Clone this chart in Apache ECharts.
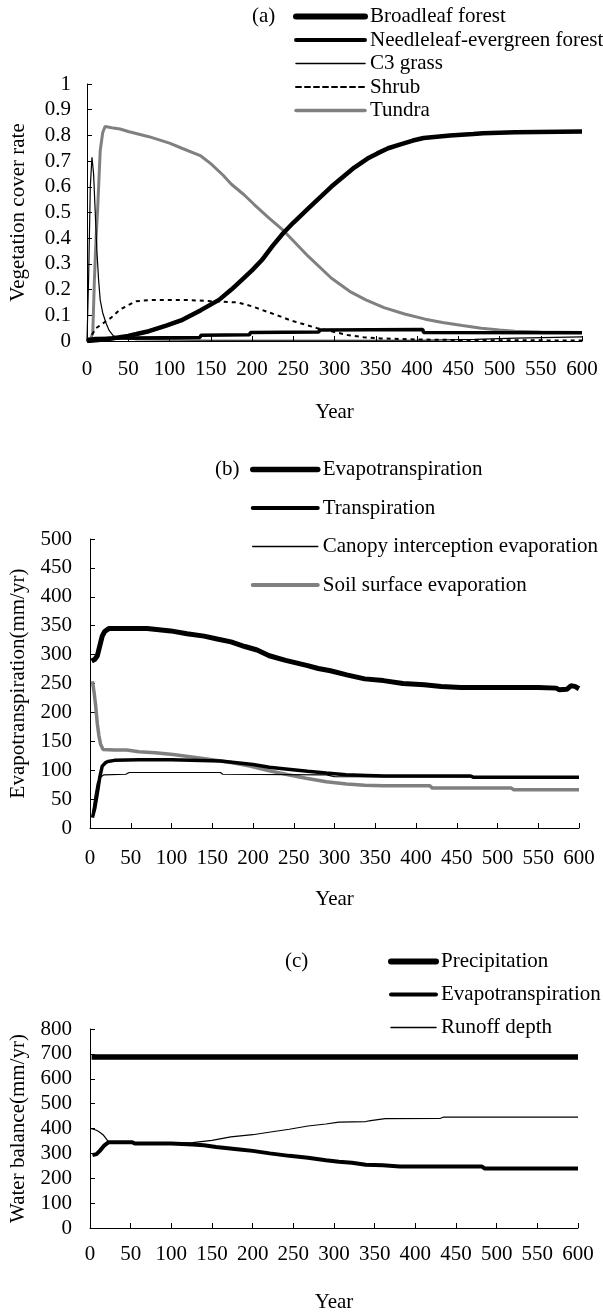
<!DOCTYPE html>
<html><head><meta charset="utf-8">
<script src="https://cdn.jsdelivr.net/npm/echarts@6/dist/echarts.min.js"></script>
<style>html,body{margin:0;padding:0;background:#fff}#chart{width:603px;height:1314px}</style>
</head><body><div id="chart"></div><script>
// ---------- Panel (a): vegetation cover rate ----------
const broadleaf = [[0,0],[10,0.003],[20,0.006],[30,0.01],[40,0.015],[50,0.02],[60,0.027],[75,0.038],[96,0.06],[114,0.08],[138,0.12],[160,0.16],[175,0.2],[190,0.245],[200,0.275],[212,0.315],[225,0.37],[238,0.42],[250,0.46],[268,0.515],[296,0.6],[324,0.675],[340,0.71],[352,0.73],[365,0.75],[380,0.765],[395,0.78],[408,0.79],[440,0.8],[468,0.805],[480,0.808],[519,0.812],[600,0.815]];
const needleleaf = [[0,0.005],[10,0.01],[50,0.012],[137,0.014],[138,0.022],[197,0.024],[198,0.033],[281,0.035],[282,0.043],[407,0.045],[408,0.033],[600,0.032]];
const c3grass = [[0,0],[2,0.25],[4,0.6],[6,0.715],[8,0.65],[10,0.5],[12,0.35],[14,0.24],[16,0.16],[19,0.11],[23,0.07],[27,0.04],[32,0.02],[40,0.01],[60,0.005],[150,0.003],[407,0.003],[408,0.005],[470,0.006],[471,0.01],[520,0.011],[521,0.016],[600,0.016]];
const shrub = [[0,0],[5,0.02],[11,0.05],[20,0.07],[29,0.09],[39,0.12],[50,0.14],[60,0.155],[80,0.16],[120,0.16],[150,0.155],[183,0.15],[200,0.135],[219,0.113],[235,0.095],[247,0.08],[263,0.065],[279,0.05],[300,0.035],[316,0.023],[335,0.015],[356,0.01],[380,0.008],[400,0.006],[450,0.004],[500,0.003],[600,0.002]];
const tundra = [[0,0],[4,0.005],[7,0.03],[9,0.24],[11,0.4],[13,0.52],[16,0.74],[19,0.81],[22,0.835],[30,0.83],[40,0.825],[50,0.815],[75,0.795],[100,0.77],[115,0.75],[138,0.72],[150,0.69],[165,0.645],[175,0.61],[190,0.57],[203,0.53],[220,0.48],[238,0.43],[250,0.39],[268,0.33],[296,0.245],[320,0.19],[338,0.16],[360,0.13],[385,0.105],[410,0.085],[431,0.072],[455,0.06],[478,0.05],[500,0.043],[519,0.038],[550,0.035],[600,0.033]];

// ---------- Panel (b): evapotranspiration components (mm/yr) ----------
const etB = [[2,289],[6,292],[9,298],[12,315],[15,332],[18,340],[23,345],[50,345],[70,345],[72,343],[99,341],[119,336],[140,332],[156,327],[173,322],[190,314],[205,308],[220,298],[240,290],[267,281],[280,276],[295,272],[315,265],[337,258],[360,255],[384,250],[410,248],[431,245],[455,243],[500,243],[550,243],[572,242],[576,239],[585,240],[590,246],[595,245],[600,241]];
const transpiration = [[3,18],[6,35],[9,60],[12,88],[15,107],[19,113],[22,115],[30,117],[60,118],[100,118],[160,116],[180,113],[200,110],[220,105],[240,102],[267,98],[290,95],[314,92],[340,91],[361,90],[467,90],[470,88],[600,88]];
const canopy = [[3,25],[6,55],[9,78],[13,88],[17,92],[44,93],[48,96],[160,96],[163,93],[290,92],[300,89],[600,88]];
const soil = [[3,254],[5,235],[7,211],[9,180],[11,159],[13,145],[16,136],[30,135],[45,135],[60,132],[80,130],[102,127],[125,123],[150,118],[175,113],[196,107],[220,99],[243,92],[265,86],[290,80],[315,76],[337,74],[361,73],[417,73],[420,69],[517,69],[520,66],[600,66]];

// ---------- Panel (c): water balance (mm/yr) ----------
const precipitation = [[2,687],[100,687],[200,687],[300,687],[400,687],[500,687],[600,687]];
const etC = [[3,293],[8,297],[12,310],[17,330],[23,345],[52,345],[55,340],[100,340],[126,336],[140,333],[155,326],[184,316],[200,310],[221,300],[245,290],[268,282],[290,272],[306,266],[322,262],[339,254],[360,252],[381,247],[430,247],[482,247],[485,239],[600,239]];
const runoff = [[1,400],[8,393],[12,385],[16,375],[20,358],[23,345],[52,343],[100,340],[126,343],[150,352],[173,366],[200,375],[220,385],[245,397],[268,410],[290,418],[306,426],[339,428],[345,432],[363,440],[431,441],[435,446],[600,446]];

const FONT = "'Liberation Serif','Times New Roman',serif";
const FS = 21;
const GRAY = '#808080';

function xAxis(gi, nameGap, margin) {
  return {
    type: 'value', gridIndex: gi, min: 0, max: 600, interval: 50,
    name: 'Year', nameLocation: 'middle', nameGap: nameGap,
    nameTextStyle: {fontFamily: FONT, fontSize: FS, color: '#000'},
    axisLine: {show: true, onZero: false, lineStyle: {color: '#000', width: 1}},
    axisTick: {show: true, inside: true, length: 5, lineStyle: {color: '#000', width: 1}},
    axisLabel: {margin: margin, color: '#000', fontFamily: FONT, fontSize: FS},
    splitLine: {show: false}
  };
}
function yAxis(gi, name, max, interval, nameGap, margin) {
  return {
    type: 'value', gridIndex: gi, min: 0, max: max, interval: interval,
    name: name, nameLocation: 'middle', nameGap: nameGap, nameRotate: 90,
    nameTextStyle: {fontFamily: FONT, fontSize: FS, color: '#000'},
    axisLine: {show: true, lineStyle: {color: '#000', width: 1}},
    axisTick: {show: true, inside: true, length: 5, lineStyle: {color: '#000', width: 1}},
    axisLabel: {margin: margin, color: '#000', fontFamily: FONT, fontSize: FS},
    splitLine: {show: false}
  };
}
function line(name, data, gi, width, color, type) {
  return {
    type: 'line', name: name, data: data, xAxisIndex: gi, yAxisIndex: gi,
    symbol: 'none', showSymbol: false, smooth: false, animation: false,
    lineStyle: {width: width, color: color, type: type || 'solid'},
    itemStyle: {color: color}
  };
}
function legendItem(name, width, color, type) {
  return {
    name: name,
    itemStyle: {opacity: 0, color: 'rgba(0,0,0,0)', borderWidth: 0},
    lineStyle: {width: width, color: color, type: type || 'solid', cap: 'round', opacity: 1}
  };
}
const legendText = {fontFamily: FONT, fontSize: FS, color: '#000'};
const titleText = {fontFamily: FONT, fontSize: FS, color: '#000', fontWeight: 'normal'};

const option = {
  backgroundColor: '#fff',
  animation: false,
  title: [
    {text: '(a)', left: 252, top: 6, padding: 0, textStyle: titleText},
    {text: '(b)', left: 215, top: 459, padding: 0, textStyle: titleText},
    {text: '(c)', left: 285, top: 951, padding: 0, textStyle: titleText}
  ],
  legend: [
    {orient: 'vertical', left: 293, top: 6, padding: 0, itemWidth: 69, itemHeight: 14, itemGap: 2.5,
     selectedMode: false, textStyle: legendText,
     data: [legendItem('Broadleaf forest', 6, '#000'), legendItem('Needleleaf-evergreen forest', 4, '#000'),
            legendItem('C3 grass', 1.5, '#000'), legendItem('Shrub', 2, '#000', [5, 4]), legendItem('Tundra', 3.5, GRAY)]},
    {orient: 'vertical', left: 250, top: 459, padding: 0, itemWidth: 65, itemHeight: 14, itemGap: 17.5,
     selectedMode: false, textStyle: legendText,
     data: [legendItem('Evapotranspiration', 5.5, '#000'), legendItem('Transpiration', 4, '#000'),
            legendItem('Canopy interception evaporation', 1.5, '#000'), legendItem('Soil surface evaporation', 4, GRAY)]},
    {orient: 'vertical', left: 388, top: 951, padding: 0, itemWidth: 45, itemHeight: 14, itemGap: 12,
     selectedMode: false, textStyle: legendText,
     data: [legendItem('Precipitation', 6, '#000'), legendItem('Evapotranspiration', 4, '#000'),
            legendItem('Runoff depth', 1.5, '#000')]}
  ],
  grid: [
    {left: 86, top: 84, width: 496, height: 257},
    {left: 89, top: 539, width: 490, height: 289},
    {left: 89, top: 1029, width: 489, height: 199}
  ],
  xAxis: [xAxis(0, 61, 18), xAxis(1, 61, 20), xAxis(2, 64, 16)],
  yAxis: [
    yAxis(0, 'Vegetation cover rate', 1, 0.1, 58, 16),
    yAxis(1, 'Evapotranspiration(mm/yr)', 500, 50, 61, 18),
    yAxis(2, 'Water balance(mm/yr)', 800, 100, 61, 18)
  ],
  series: [
    line('Tundra', tundra, 0, 3, GRAY),
    line('Shrub', shrub, 0, 2, '#000', [4, 4]),
    line('C3 grass', c3grass, 0, 1.2, '#000'),
    line('Needleleaf-evergreen forest', needleleaf, 0, 3.5, '#000'),
    line('Broadleaf forest', broadleaf, 0, 4.5, '#000'),
    line('Soil surface evaporation', soil, 1, 3.5, GRAY),
    line('Canopy interception evaporation', canopy, 1, 1.2, '#000'),
    line('Transpiration', transpiration, 1, 3.5, '#000'),
    line('Evapotranspiration', etB, 1, 5, '#000'),
    line('Precipitation', precipitation, 2, 5.5, '#000'),
    line('Evapotranspiration', etC, 2, 4, '#000'),
    line('Runoff depth', runoff, 2, 1.2, '#000')
  ]
};
const chart = echarts.init(document.getElementById('chart'), null, {renderer: 'canvas'});
chart.setOption(option);
</script></body></html>
